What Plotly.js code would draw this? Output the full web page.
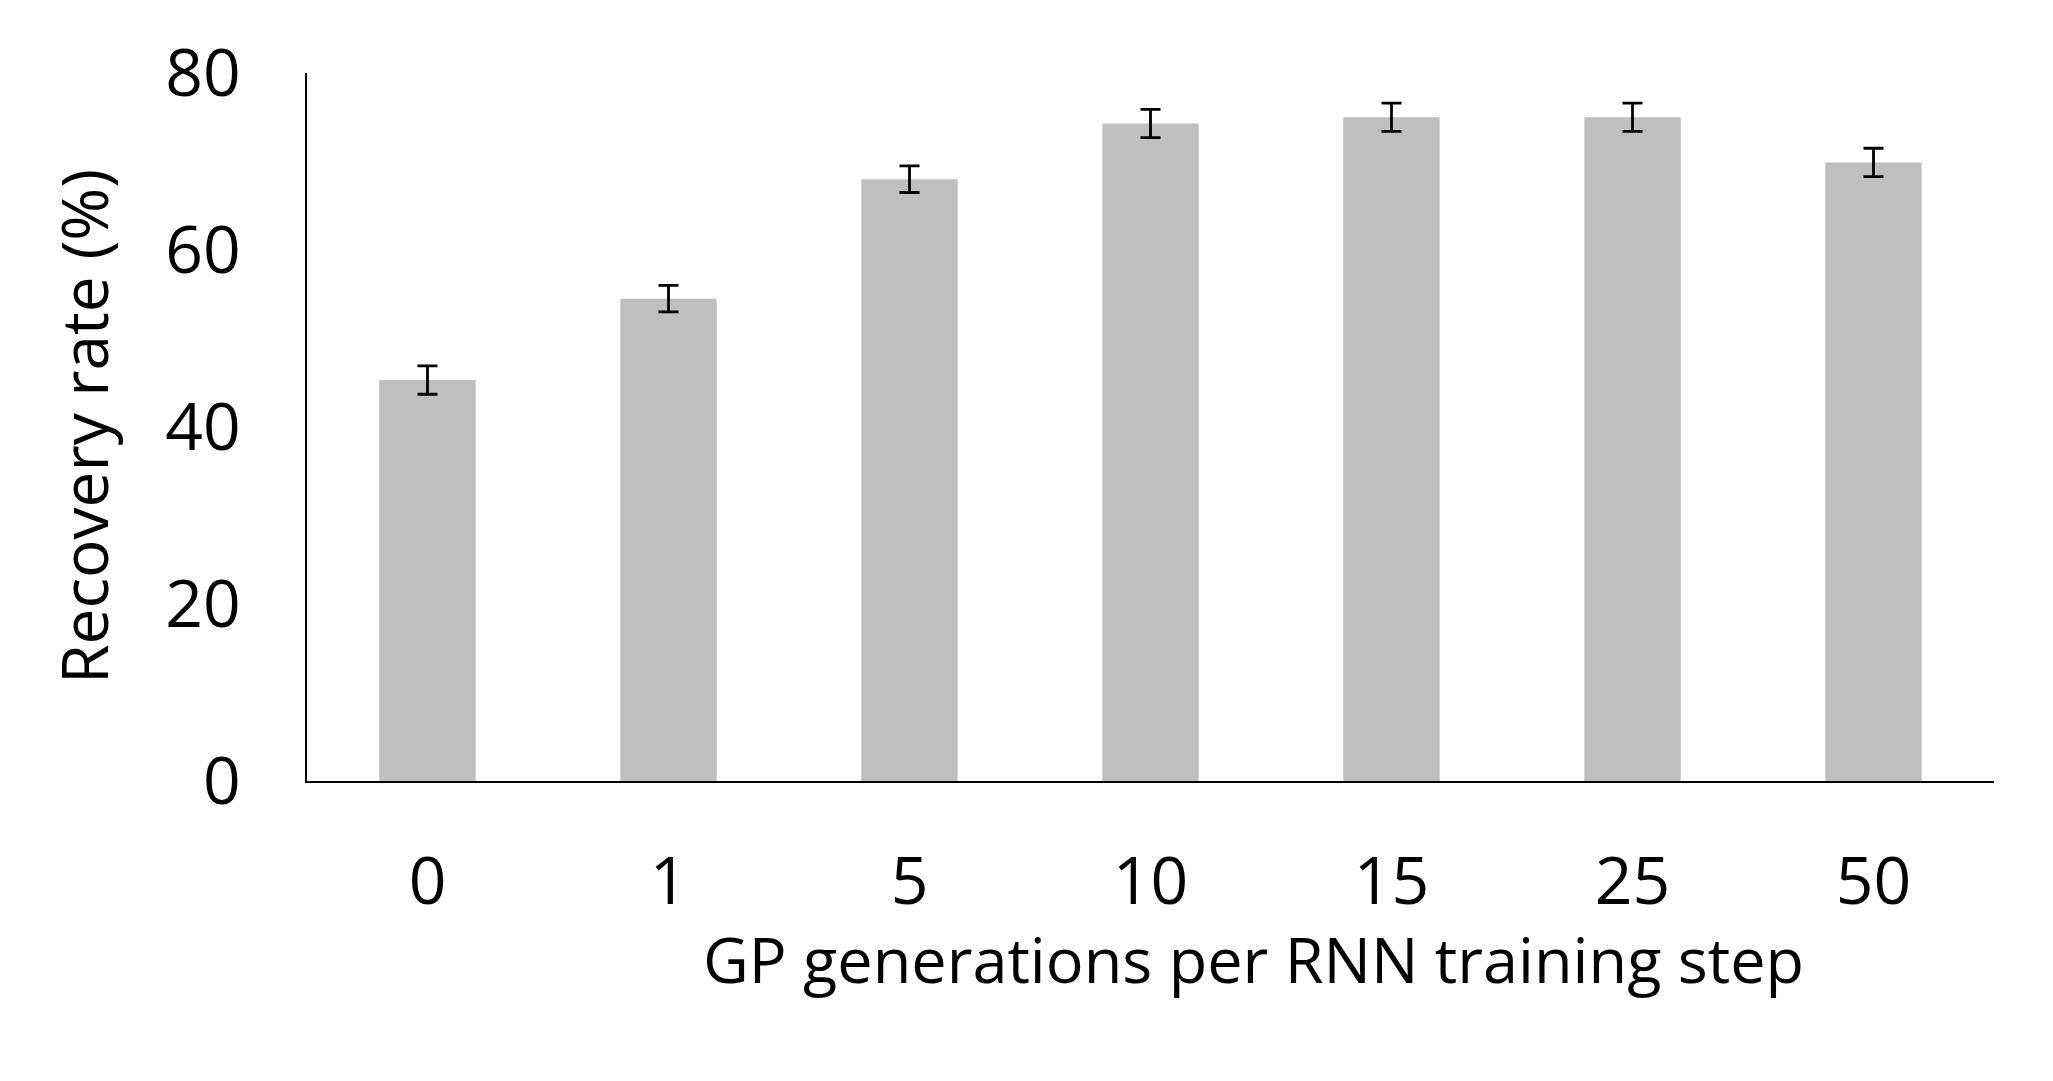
<!DOCTYPE html>
<html>
<head>
<meta charset="utf-8">
<script src="https://cdn.plot.ly/plotly-3.0.1.min.js"></script>
<style>html,body{margin:0;padding:0;background:#fff;}#chart{width:2053px;height:1081px;}</style>
</head>
<body>
<div id="chart"></div>
<script>
const categories = ["0", "1", "5", "10", "15", "25", "50"];
const recoveryRate = [45.3, 54.5, 68.0, 74.3, 75.0, 75.0, 69.9];
const errorValues = [1.6, 1.5, 1.5, 1.6, 1.6, 1.6, 1.6];
const yTickValues = [0, 20, 40, 60, 80];
const xTitle = "GP generations per RNN training step";
const yTitle = "Recovery rate (%)";

const font = "'Open Sans', 'Noto Sans', sans-serif";

const trace = {
  type: "bar",
  x: categories,
  y: recoveryRate,
  marker: {color: "#bfbfbf", line: {width: 0}},
  error_y: {type: "data", array: errorValues, visible: true, color: "#000", thickness: 2.8, width: 10},
  hoverinfo: "none"
};

const layout = {
  width: 2053, height: 1081,
  paper_bgcolor: "#fff", plot_bgcolor: "#fff",
  margin: {l: 307, r: 59, t: 73, b: 300},
  bargap: 0.6,
  showlegend: false,
  font: {family: font, color: "#000"},
  xaxis: {
    type: "category",
    showline: true, linecolor: "#000", linewidth: 2,
    showgrid: false, zeroline: false, ticks: "",
    ticklabelstandoff: 42,
    tickfont: {family: font, size: 66, color: "#000"}
  },
  yaxis: {
    range: [0, 80],
    tickvals: yTickValues,
    showline: true, linecolor: "#000", linewidth: 2,
    showgrid: false, zeroline: false, ticks: "",
    ticklabelstandoff: 51,
    tickfont: {family: font, size: 66, color: "#000"}
  },
  annotations: [
    {text: xTitle, xref: "paper", yref: "paper", x: (1253 - 307) / (1994 - 307), y: -(958 - 781) / (781 - 73),
     xanchor: "center", yanchor: "middle", showarrow: false, font: {family: font, size: 63, color: "#000"}},
    {text: yTitle, xref: "paper", yref: "paper", x: -(307 - 83) / (1994 - 307), y: 0.5, textangle: -90,
     xanchor: "center", yanchor: "middle", showarrow: false, font: {family: font, size: 64, color: "#000"}}
  ]
};

Plotly.newPlot("chart", [trace], layout, {displayModeBar: false, staticPlot: true});
</script>
</body>
</html>
